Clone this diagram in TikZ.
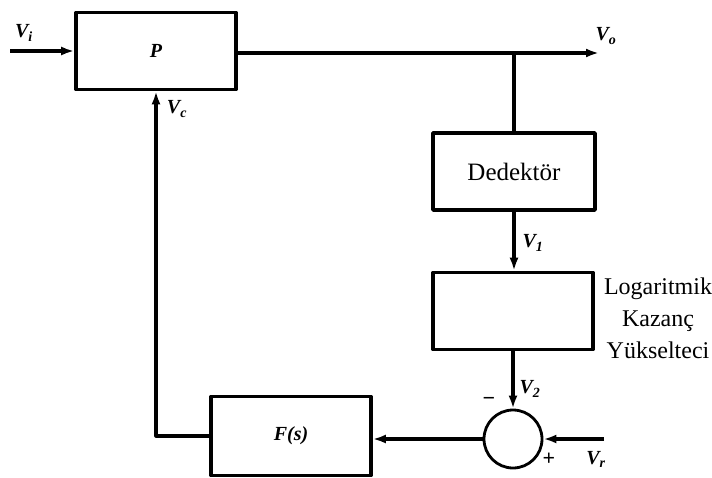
\documentclass[tikz,border=0pt]{standalone}
\usepackage{fontspec}
\setmainfont{Liberation Serif}
\usetikzlibrary{arrows.meta}

\begin{document}
\begin{tikzpicture}[
  x=1pt,
  y=-1pt,
  line join=round,
  block/.style={draw,line width=3.6pt,rectangle,minimum width=160pt,minimum height=77pt,inner sep=0pt},
  sumnode/.style={draw,line width=2.8pt,circle,minimum size=58pt,inner sep=0pt},
  wire/.style={line width=3.2pt},
  flow/.style={line width=3.2pt,-{Latex[length=13pt,width=9pt]}},
  lbl/.style={font=\fontsize{20}{22}\selectfont\bfseries\itshape,inner sep=0pt},
  sgn/.style={font=\fontsize{22}{24}\selectfont\bfseries,inner sep=0pt}
]
  % Keep the frame of the original artwork.
  \useasboundingbox (0,0) rectangle (712,477);

  % Blocks of the loop.
  \node[block] (plant) at (156,51) {};
  \node[lbl] at (plant.center) {P};
  \node[block,minimum width=162pt] (detector) at (514,171.5) {\fontsize{25}{28}\selectfont Dedektör};
  \node[block] (logamp) at (513,311) {};
  \node[block,minimum height=79pt] (filter) at (291,436) {};
  \node[lbl] at (filter.center) {F(s)};
  \node[sumnode] (summer) at (513,439) {};

  % Amplifier caption beside its block.
  \node[align=center,font=\fontsize{24}{32}\selectfont,inner sep=0pt] (logcap) at (658,318)
    {Logaritmik\\Kazanç\\Yükselteci};

  % Free ends of the input and output lines.
  \coordinate (vin) at (10,51);
  \coordinate (vout) at (599,53);
  \coordinate (tap) at (514,53);
  \coordinate (vref) at (604,439);

  % Forward path and feedback path.
  \draw[flow] (vin) -- (plant.west);
  \draw[flow] (plant.east |- vout) -- (vout);
  \draw[wire] (tap) -- (detector.north);
  \draw[flow] (detector.south) -- (logamp.north -| detector.south);
  \draw[flow] (logamp.south) -- (summer.north);
  \draw[flow] (vref) -- (summer.east);
  \draw[flow] (summer.west) -- (filter.east |- summer.west);
  \draw[flow] (filter.west) -| (plant.south);

  % Signal names and summing signs.
  \node[lbl] at (24,33) {V\textsubscript{i}};
  \node[lbl] at (606,36) {V\textsubscript{o}};
  \node[lbl] at (177,109) {V\textsubscript{c}};
  \node[lbl] at (533,243) {V\textsubscript{1}};
  \node[lbl] at (530,389) {V\textsubscript{2}};
  \node[lbl] at (596,459) {V\textsubscript{r}};
  \node[sgn] at (489,401) {−};
  \node[sgn] at (549,459) {+};
\end{tikzpicture}
\end{document}
